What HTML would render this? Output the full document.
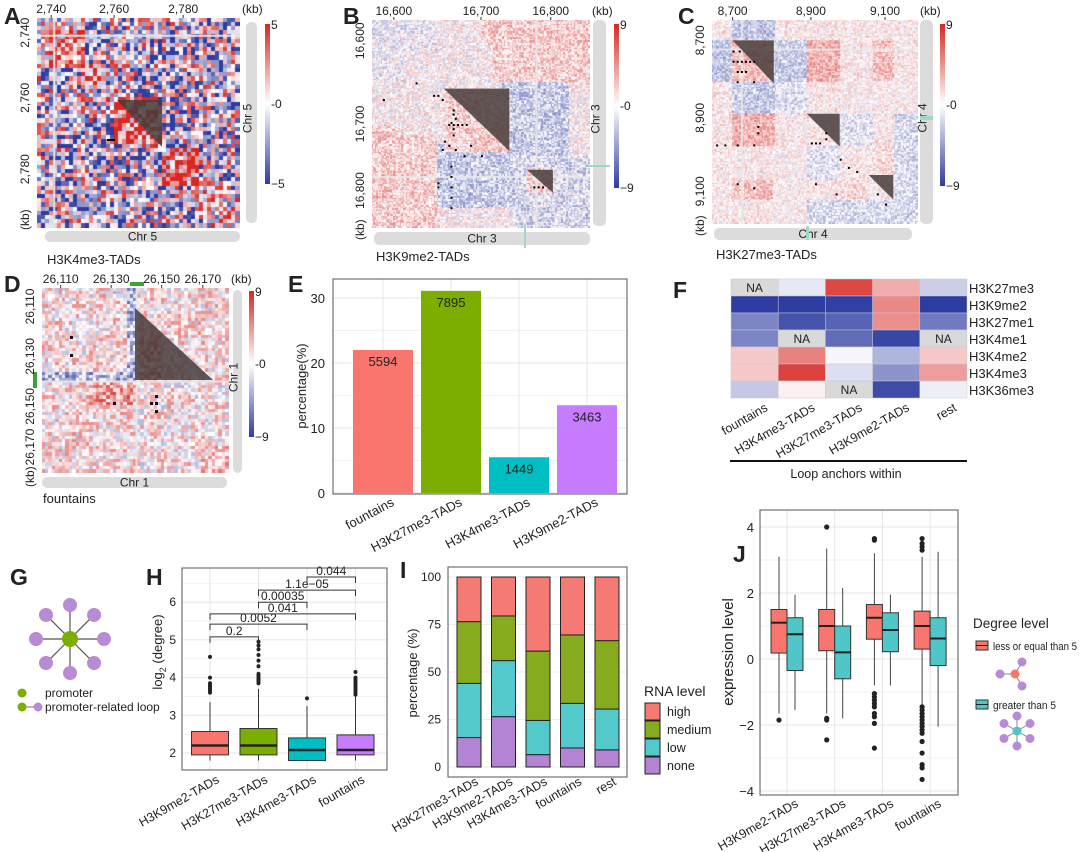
<!DOCTYPE html>
<html><head><meta charset="utf-8">
<style>
html,body{margin:0;padding:0;background:#fff;}
#wrap{position:relative;width:1080px;height:852px;overflow:hidden;font-family:"Liberation Sans",sans-serif;}
canvas{position:absolute;}
svg{position:absolute;left:0;top:0;}
text{font-family:"Liberation Sans",sans-serif;fill:#222;}
</style></head>
<body>
<div id="wrap">
<canvas id="hA" style="left:37px;top:18px" width="203" height="210"></canvas>
<canvas id="hB" style="left:372px;top:20px" width="218" height="208"></canvas>
<canvas id="hC" style="left:712px;top:20px" width="206" height="204"></canvas>
<canvas id="hD" style="left:42px;top:288px" width="187" height="185"></canvas>
<svg id="svg" width="1080" height="852" viewBox="0 0 1080 852">
<defs>
<linearGradient id="cbar" x1="0" y1="0" x2="0" y2="1">
<stop offset="0" stop-color="#d7281f"/><stop offset="0.5" stop-color="#ffffff"/><stop offset="1" stop-color="#2d3ca0"/>
</linearGradient>
</defs>
</svg>
</div>
<script>
// ---------- DATA ----------
const eCategories = ["fountains","H3K27me3-TADs","H3K4me3-TADs","H3K9me2-TADs"];
const eValues = [22.0, 31.1, 5.5, 13.5];
const eCounts = ["5594","7895","1449","3463"];
const eColors = ["#f8766d","#7cae00","#00bfc4","#c77cff"];
const eTicks = [0,10,20,30];

const fCols = ["fountains","H3K4me3-TADs","H3K27me3-TADs","H3K9me2-TADs","rest"];
const fRows = ["H3K27me3","H3K9me2","H3K27me1","H3K4me1","H3K4me2","H3K4me3","H3K36me3"];
const fValues = [
 [null,-0.12,0.85,0.38,-0.25],
 [-1.0,-1.0,-0.98,0.55,-1.0],
 [-0.62,-0.88,-0.8,0.52,-0.68],
 [-0.62,null,-0.75,-0.95,null],
 [0.25,0.58,-0.04,-0.38,0.25],
 [0.25,0.88,-0.16,-0.55,0.45],
 [-0.28,0.07,null,-0.92,-0.08]
];

const hCategories = ["H3K9me2-TADs","H3K27me3-TADs","H3K4me3-TADs","fountains"];
const hColors = ["#f8766d","#7cae00","#00bfc4","#c77cff"];
const hLow = [1.8,1.8,1.8,1.8];
const hQ1 = [1.95,1.95,1.8,1.95];
const hMed = [2.2,2.2,2.08,2.08];
const hQ3 = [2.57,2.65,2.4,2.48];
const hHigh = [3.35,3.7,3.25,3.5];
const hOutliers = [
 [3.6,3.65,3.7,3.75,3.8,3.85,4.0,4.55],
 [3.85,3.9,3.95,4.0,4.05,4.1,4.3,4.45,4.6,4.75,4.85,4.95],
 [3.45],
 [3.55,3.6,3.65,3.7,3.75,3.8,3.85,3.9,3.95,4.0,4.15]
];
const hPairs = [[0,1],[0,2],[0,3],[1,2],[1,3],[2,3]];
const hPLabels = ["0.2","0.0052","0.041","0.00035","1.1e−05","0.044"];
const hPY = [5.08,5.42,5.69,6.0,6.32,6.67];
const hTicks = [2,3,4,5,6];

const iCategories = ["H3K27me3-TADs","H3K9me2-TADs","H3K4me3-TADs","fountains","rest"];
const iNone = [15.5,26.5,6.5,10,9];
const iLow = [28.5,29.5,18,23.5,21.5];
const iMedium = [32.5,23.5,36.5,36,36];
const iHigh = [23.5,20.5,39,30.5,33.5];
const iTicks = [0,25,50,75,100];

const jCategories = ["H3K9me2-TADs","H3K27me3-TADs","H3K4me3-TADs","fountains"];
const jRedLow = [-1.65,-1.65,-0.8,-1.4];
const jRedQ1 = [0.18,0.25,0.6,0.3];
const jRedMed = [1.1,1.0,1.25,1.0];
const jRedQ3 = [1.5,1.5,1.65,1.45];
const jRedHigh = [3.1,3.35,3.2,3.1];
const jRedOut = [[-1.85],[4.0,-1.8,-1.85,-2.45],[3.6,3.65,-1.05,-1.15,-1.25,-1.35,-1.45,-1.65,-1.75,-1.95,-2.7],
 [3.3,3.4,3.5,3.65,-1.45,-1.55,-1.65,-1.75,-1.85,-1.95,-2.05,-2.15,-2.25,-2.5,-2.85,-3.2,-3.3,-3.65]];
const jTealLow = [-1.55,-1.8,-0.8,-2.05];
const jTealQ1 = [-0.35,-0.6,0.22,-0.2];
const jTealMed = [0.75,0.2,0.88,0.62];
const jTealQ3 = [1.25,1.0,1.4,1.25];
const jTealHigh = [1.95,2.15,1.95,3.25];
const jTicks = [-4,-2,0,2,4];

// ---------- HELPERS ----------
const NS="http://www.w3.org/2000/svg";
const svg=document.getElementById('svg');
function mk(tag,attrs,parent){const e=document.createElementNS(NS,tag);for(const k in attrs)e.setAttribute(k,attrs[k]);(parent||svg).appendChild(e);return e;}
function txt(s,x,y,attrs,parent){const e=mk('text',Object.assign({x:x,y:y,'font-size':12},attrs||{}),parent);e.textContent=s;return e;}
function group(name){const g=mk('g',{});return g;}
function lerp(a,b,t){return Math.round(a+(b-a)*t);}
function colv(v){v=Math.max(-1,Math.min(1,v));if(v>=0)return 'rgb('+lerp(255,215,v)+','+lerp(255,40,v)+','+lerp(255,35,v)+')';const t=-v;return 'rgb('+lerp(255,45,t)+','+lerp(255,60,t)+','+lerp(255,160,t)+')';}
function hsh(i,j,s){const a=Math.min(i,j),b=Math.max(i,j);const x=Math.sin(a*12.9898+b*78.233+s*3.17)*43758.5453;return x-Math.floor(x);}

// ---------- PANEL LETTERS ----------
const letters=[["A",4,24],["B",343,24],["C",678,24],["D",4,292],["E",288,292],["F",673,298],["G",10,585],["H",146,585],["I",400,578],["J",733,562]];
letters.forEach(l=>{const t=txt(l[0],l[1],l[2],{'font-size':23,'font-weight':'bold',fill:'#111'});});

// ---------- HI-C MAPS (texture) ----------
function drawHic(id,n,bias,amp,seed,grey){
 const c=document.getElementById(id),ctx=c.getContext('2d');const W=c.width,H=c.height;
 for(let i=0;i<n;i++)for(let j=0;j<n;j++){
  const u=Math.min(i,j)/n,v=Math.max(i,j)/n;
  let val=bias(u,v)+(hsh(i,j,seed)-0.5)*2*amp;
  ctx.fillStyle=colv(val);
  const x0=Math.floor(j*W/n),y0=Math.floor(i*H/n);
  ctx.fillRect(x0,y0,Math.ceil(W/n)+1,Math.ceil(H/n)+1);
 }
 if(grey){ctx.fillStyle='#e8e8e8';grey.forEach(g=>{ctx.fillRect(g*W,0,2,H);ctx.fillRect(0,g*H,W,2);});}
}
function inr(x,a,b){return x>=a&&x<=b;}
drawHic('hA',50,(u,v)=>{let b=-0.15;if(v-u<0.04)b=0.5;
 if(inr(u,0.05,0.22)&&inr(v,0.05,0.22))b=0.45;if(inr(u,0.22,0.32)&&inr(v,0.22,0.32))b=0.6;
 if(inr(u,0.38,0.58)&&inr(v,0.38,0.58))b=0.7;if(inr(u,0.62,0.78)&&inr(v,0.62,0.78))b=0.6;if(inr(u,0.82,1)&&inr(v,0.82,1))b=0.3;return b;},1.1,1,[0.08]);
drawHic('hB',140,(u,v)=>{let b=0.04;
 if(v>0.55&&u<0.3)b=0.2;if(u<0.15&&v<0.3)b=-0.08;if(inr(u,0.3,0.65)&&inr(v,0.6,0.9))b=-0.25;
 if(u>0.65&&v>0.65)b=-0.18;if(inr(u,0.33,0.63)&&inr(v,0.33,0.63))b=0.2;if(inr(u,0.71,0.83)&&inr(v,0.71,0.83))b=0.2;if(u<0.12&&v>0.5)b=0.22;return b;},0.32,2,[0.75]);
drawHic('hC',140,(u,v)=>{let b=0.08;
 if(u<0.1&&inr(v,0.1,0.3))b=-0.3;if(inr(u,0.1,0.3)&&inr(v,0.1,0.3))b=0.3;
 if(inr(u,0.1,0.3)&&inr(v,0.46,0.62))b=0.35;if(inr(u,0.1,0.3)&&inr(v,0.78,0.88))b=0.28;
 if(inr(u,0.3,0.46)&&inr(v,0.3,0.46))b=-0.15;if(inr(u,0.1,0.3)&&inr(v,0.3,0.46))b=-0.25;
 if(inr(u,0.46,0.62)&&inr(v,0.46,0.62))b=0.1;if(inr(u,0.46,0.62)&&inr(v,0.62,0.78))b=-0.15;
 if(inr(u,0.62,0.76)&&inr(v,0.78,0.88))b=0.15;if(v>0.88&&u>0.3)b=-0.18;if(inr(u,0.3,0.46)&&v>0.62)b=0.04;return b;},0.25,3,[0.14]);
drawHic('hD',55,(u,v)=>{let b=0.1;
 if(inr(u,0.25,0.5)&&inr(v,0.5,0.62))b=0.45;if(inr(u,0.0,0.5)&&inr(v,0.44,0.5))b=-0.35;
 if(inr(u,0.5,1)&&inr(v,0.5,1))b=0.08;if(v>0.85&&u>0.85)b=0.2;return b;},0.45,4,[0.5]);

// overlays
function tri(pts,name){const p=mk('polygon',{points:pts,fill:'rgba(70,60,60,0.85)'});}
function frac(x0,y0,w,h,fx,fy){return (x0+fx*w).toFixed(1)+','+(y0+fy*h).toFixed(1);}
tri('117,100 162,100 162,147','tad-triangle-a');
mk('rect',{x:107,y:139,width:8,height:2,fill:'#000'});
const B=[372,20,218,208];
tri([frac(...B,0.33,0.33),frac(...B,0.63,0.33),frac(...B,0.63,0.63)].join(' '),'tad-triangle-b1');
tri([frac(...B,0.71,0.72),frac(...B,0.83,0.72),frac(...B,0.83,0.83)].join(' '),'tad-triangle-b2');
const bDots=[[0.38,0.47],[0.36,0.49],[0.37,0.5],[0.39,0.5],[0.41,0.5],[0.43,0.5],[0.35,0.5],[0.37,0.45],[0.37,0.43],[0.37,0.52],[0.37,0.55],[0.35,0.6],[0.38,0.62],[0.32,0.62],[0.33,0.58],[0.36,0.7],[0.36,0.75],[0.36,0.8],[0.36,0.85],[0.36,0.9],[0.3,0.78],[0.3,0.8],[0.74,0.8],[0.76,0.8],[0.78,0.8],[0.32,0.38],[0.3,0.36],[0.28,0.36],[0.2,0.3],[0.05,0.38],[0.45,0.6],[0.5,0.65],[0.42,0.65]];
bDots.forEach(d=>mk('rect',{x:B[0]+d[0]*B[2],y:B[1]+d[1]*B[3],width:2,height:2,fill:'#000'}));
const C=[712,20,206,204];
tri([frac(...C,0.1,0.1),frac(...C,0.3,0.1),frac(...C,0.3,0.31)].join(' '),'tad-triangle-c1');
tri([frac(...C,0.46,0.46),frac(...C,0.62,0.46),frac(...C,0.62,0.62)].join(' '),'tad-triangle-c2');
tri([frac(...C,0.76,0.76),frac(...C,0.88,0.76),frac(...C,0.88,0.88)].join(' '),'tad-triangle-c3');
const cDots=[[0.1,0.2],[0.12,0.2],[0.14,0.2],[0.16,0.2],[0.18,0.2],[0.2,0.2],[0.12,0.25],[0.14,0.25],[0.16,0.25],[0.1,0.15],[0.13,0.15],[0.12,0.3],[0.2,0.3],[0.02,0.61],[0.06,0.61],[0.12,0.61],[0.2,0.61],[0.22,0.55],[0.22,0.52],[0.48,0.6],[0.5,0.6],[0.52,0.6],[0.55,0.58],[0.55,0.55],[0.62,0.68],[0.66,0.72],[0.7,0.74],[0.8,0.85],[0.84,0.9],[0.2,0.82],[0.12,0.8],[0.5,0.8],[0.6,0.85]];
cDots.forEach(d=>mk('rect',{x:C[0]+d[0]*C[2],y:C[1]+d[1]*C[3],width:2,height:2,fill:'#000'}));
tri('135,308 135,380 213,380','tad-triangle-d');
[[70,336],[70,354],[113,402],[150,402],[155,402],[155,395],[155,410]].forEach(d=>mk('rect',{x:d[0],y:d[1],width:3,height:3,fill:'#111'}));
mk('rect',{x:130,y:282,width:14,height:4,fill:'#3aa33a'});
mk('rect',{x:33,y:372,width:4,height:16,fill:'#3aa33a'});

function colorbar(x,y,h,top,bot,name){const r=mk('rect',{x:x,y:y,width:5,height:h,fill:'url(#cbar)'});
 txt(top,x+6,y+5,{'font-size':12});txt('-0',x+6,y+h/2+4,{'font-size':12});txt(bot,x+6,y+h+4,{'font-size':12});}
colorbar(265,24,160,'5','−5','colorbar-a');colorbar(614,24,164,'9','−9','colorbar-b');colorbar(940,24,162,'9','−9','colorbar-c');colorbar(249,291,146,'9','−9','colorbar-d');
function chrbar(x,y,w,h,label,vert,name){const r=mk('rect',{x:x,y:y,width:w,height:h,rx:5,fill:'#dcdcdc'});
 const cx=x+w/2,cy=y+h/2;if(vert)txt(label,cx+4,cy,{'text-anchor':'middle','font-size':12,transform:'rotate(-90 '+cx+' '+cy+')'});else txt(label,cx,cy+4,{'text-anchor':'middle','font-size':12});}
chrbar(246,22,11,201,'Chr 5',true,'chr-bar-a-vertical');chrbar(45,231,195,11,'Chr 5',false,'chr-bar-a-horizontal');
chrbar(593,20,13,206,'Chr 3',true,'chr-bar-b-vertical');chrbar(374,232,216,13,'Chr 3',false,'chr-bar-b-horizontal');
chrbar(920,20,13,204,'Chr 4',true,'chr-bar-c-vertical');chrbar(714,228,198,12,'Chr 4',false,'chr-bar-c-horizontal');
chrbar(233,290,9,183,'Chr 1',true,'chr-bar-d-vertical');chrbar(42,477,185,11,'Chr 1',false,'chr-bar-d-horizontal');
mk('rect',{x:524,y:226,width:2,height:22,fill:'#9fd8c8'});mk('rect',{x:588,y:165,width:22,height:2,fill:'#9fd8c8'});
mk('rect',{x:806,y:226,width:3,height:14,fill:'#9fd8c8'});mk('rect',{x:920,y:116,width:13,height:4,fill:'#9fd8c8'});

function hicTicks(x0,y0,w,h,labels,fr,kbOff,name){const g=group(name);
 labels.forEach((l,i)=>{const x=x0+fr[i]*w,y=y0+fr[i]*h;
  txt(l,x,y0-5,{'text-anchor':'middle','font-size':12},g);mk('line',{x1:x,y1:y0-3,x2:x,y2:y0,stroke:'#333'},g);
  txt(l,x0-8,y,{'text-anchor':'middle','font-size':12,transform:'rotate(-90 '+(x0-8)+' '+y+')'},g);});
 txt('(kb)',x0+w+2,y0-5,{'font-size':12},g);const ky=y0+h+kbOff;txt('(kb)',x0-8,ky,{'text-anchor':'start','font-size':12,transform:'rotate(-90 '+(x0-8)+' '+ky+')'},g);}
hicTicks(37,18,203,210,['2,740','2,760','2,780'],[0.07,0.38,0.72],2,'ticks-a');
hicTicks(372,20,218,208,['16,600','16,700','16,800'],[0.1,0.5,0.82],12,'ticks-b');
hicTicks(712,20,206,204,['8,700','8,900','9,100'],[0.1,0.48,0.84],12,'ticks-c');
hicTicks(42,288,187,185,['26,110','26,130','26,150','26,170'],[0.1,0.37,0.64,0.86],14,'ticks-d');
[['H3K4me3-TADs',47,264],['H3K9me2-TADs',376,261],['H3K27me3-TADs',716,259],['fountains',43,503]].forEach(t=>{const e=txt(t[0],t[1],t[2],{'font-size':13});});

// ---------- PANEL E ----------
const yE=p=>493-6.5*p, xE=i=>383+68*i;
const gE=group('bar-chart-e');
mk('rect',{x:333,y:279,width:294,height:215,fill:'#fff'},gE);
[5,15,25].forEach(t=>mk('line',{x1:333,x2:627,y1:yE(t),y2:yE(t),stroke:'#f2f2f2'},gE));
eTicks.forEach(t=>{mk('line',{x1:333,x2:627,y1:yE(t),y2:yE(t),stroke:'#e6e6e6'},gE);txt(String(t),325,yE(t)+5,{'text-anchor':'end','font-size':13},gE);});
eCategories.forEach((c,i)=>mk('line',{x1:xE(i),x2:xE(i),y1:279,y2:494,stroke:'#e6e6e6'},gE));
eCategories.forEach((c,i)=>{
 const r=mk('rect',{x:xE(i)-30,y:yE(eValues[i]),width:60,height:yE(0)-yE(eValues[i]),fill:eColors[i]},gE);
 
 txt(eCounts[i],xE(i),yE(eValues[i])+16,{'text-anchor':'middle','font-size':13},gE);
 const lx=xE(i)+12,ly=505;txt(c,lx,ly,{'text-anchor':'end','font-size':13,transform:'rotate(-28 '+lx+' '+ly+')'},gE);
});
mk('rect',{x:333,y:279,width:294,height:215,fill:'none',stroke:'#555'},gE);
txt('percentage(%)',306,386,{'text-anchor':'middle','font-size':13,transform:'rotate(-90 306 386)'},gE);

// ---------- PANEL F ----------
const gF=group('heatmap-f');const fx0=731,fy0=279,fw=47.2,fh=17;
fRows.forEach((r,ri)=>{fCols.forEach((c,ci)=>{const v=fValues[ri][ci];
 const cell=mk('rect',{x:fx0+ci*fw,y:fy0+ri*fh,width:fw,height:fh,fill:v===null?'#d9d9d9':colv(v),stroke:'#c8c8d8','stroke-width':0.5},gF);
 
 if(v===null)txt('NA',fx0+ci*fw+fw/2,fy0+ri*fh+13,{'text-anchor':'middle','font-size':12},gF);});
 txt(r,fx0+5*fw+2,fy0+ri*fh+14,{'font-size':13},gF);});
fCols.forEach((c,ci)=>{const lx=fx0+ci*fw+fw/2+14,ly=fy0+7*fh+12;txt(c,lx,ly,{'text-anchor':'end','font-size':12.5,transform:'rotate(-30 '+lx+' '+ly+')'},gF);});
mk('line',{x1:730,x2:967,y1:461,y2:461,stroke:'#111','stroke-width':2},gF);
txt('Loop anchors within',846,478,{'text-anchor':'middle','font-size':12.5},gF);

// ---------- PANEL G ----------
const gG=group('network-diagram-g');
for(let k=0;k<8;k++){const a=k*Math.PI/4-Math.PI/2,x=70+34*Math.cos(a),y=639+34*Math.sin(a);
 mk('line',{x1:70,y1:639,x2:x,y2:y,stroke:'#555','stroke-width':1.2},gG);mk('circle',{cx:x,cy:y,r:7,fill:'#b98ad6'},gG);}
mk('circle',{cx:70,cy:639,r:8,fill:'#7cae00'},gG);
mk('circle',{cx:22,cy:693,r:4.5,fill:'#7cae00'},gG);txt('promoter',45,697,{'font-size':12},gG);
mk('line',{x1:22,y1:707,x2:38,y2:707,stroke:'#777'},gG);mk('circle',{cx:22,cy:707,r:4.5,fill:'#7cae00'},gG);mk('circle',{cx:38,cy:707,r:4.5,fill:'#b98ad6'},gG);
txt('promoter-related loop',45,711,{'font-size':12},gG);

// ---------- PANEL H ----------
const yH=v=>753-37.7*(v-2), xH=i=>210+48.5*i;
const gH=group('boxplot-h');
[2.5,3.5,4.5,5.5,6.5].forEach(t=>mk('line',{x1:182,x2:387,y1:yH(t),y2:yH(t),stroke:'#f2f2f2'},gH));
hTicks.forEach(t=>{mk('line',{x1:182,x2:387,y1:yH(t),y2:yH(t),stroke:'#e6e6e6'},gH);txt(String(t),176,yH(t)+4,{'text-anchor':'end','font-size':12},gH);});
hCategories.forEach((c,i)=>mk('line',{x1:xH(i),x2:xH(i),y1:568,y2:770,stroke:'#e6e6e6'},gH));
hCategories.forEach((c,i)=>{const x=xH(i);
 mk('line',{x1:x,x2:x,y1:yH(hLow[i]),y2:yH(hHigh[i]),stroke:'#333'},gH);
 const b=mk('rect',{x:x-18.5,y:yH(hQ3[i]),width:37,height:yH(hQ1[i])-yH(hQ3[i]),fill:hColors[i],stroke:'#333'},gH);
 
 mk('line',{x1:x-18.5,x2:x+18.5,y1:yH(hMed[i]),y2:yH(hMed[i]),stroke:'#222','stroke-width':2.5},gH);
 hOutliers[i].forEach(o=>mk('circle',{cx:x,cy:yH(o),r:2,fill:'#222'},gH));
 const lx=x+10,ly=782;txt(c,lx,ly,{'text-anchor':'end','font-size':12.5,transform:'rotate(-30 '+lx+' '+ly+')'},gH);
});
hPairs.forEach((p,k)=>{const y=yH(hPY[k]),x1=xH(p[0]),x2=xH(p[1]);
 mk('polyline',{points:x1+','+(y+6)+' '+x1+','+y+' '+x2+','+y+' '+x2+','+(y+6),fill:'none',stroke:'#333'},gH);
 txt(hPLabels[k],(x1+x2)/2,y-2,{'text-anchor':'middle','font-size':12},gH);});
mk('rect',{x:182,y:568,width:205,height:202,fill:'none',stroke:'#555'},gH);
const hl=txt('',162,652,{'text-anchor':'middle','font-size':13,transform:'rotate(-90 162 652)'},gH);
hl.innerHTML='log<tspan font-size="9" dy="4">2</tspan><tspan dy="-4"> (degree)</tspan>';

// ---------- PANEL I ----------
const yI=p=>767-1.9*p, xI=i=>469+34.5*i;
const gI=group('stacked-bar-i');
iTicks.forEach(t=>{mk('line',{x1:448,x2:627,y1:yI(t),y2:yI(t),stroke:'#ececec'},gI);txt(String(t),441,yI(t)+4,{'text-anchor':'end','font-size':12},gI);});
const iSeries=[["none",iNone],["low",iLow],["medium",iMedium],["high",iHigh]];
const iFill={none:'#b384d4',low:'#53c9cc',medium:'#86ab1e',high:'#f47a73'};
iCategories.forEach((c,i)=>{let acc=0;
 iSeries.forEach(s=>{const v=s[1][i];const r=mk('rect',{x:xI(i)-12,y:yI(acc+v),width:24,height:yI(acc)-yI(acc+v),fill:iFill[s[0]],stroke:'#222','stroke-width':1},gI);
  acc+=v;});
 const lx=xI(i)+10,ly=784;txt(c,lx,ly,{'text-anchor':'end','font-size':12.5,transform:'rotate(-30 '+lx+' '+ly+')'},gI);
});
mk('rect',{x:448,y:567,width:179,height:210,fill:'none',stroke:'#555'},gI);
txt('percentage (%)',417,673,{'text-anchor':'middle','font-size':13,transform:'rotate(-90 417 673)'},gI);
const gIL=group('legend-i');txt('RNA level',644,696,{'font-size':14},gIL);
["high","medium","low","none"].forEach((k,n)=>{const r=mk('rect',{x:645,y:703+n*18,width:15,height:17,fill:iFill[k],stroke:'#222'},gIL);txt(k,667,716+n*18,{'font-size':12.5},gIL);});

// ---------- PANEL J ----------
const yJ=v=>659-33*v, xJ=i=>787+47.7*i;
const gJ=group('boxplot-j');
[-3,-1,1,3].forEach(t=>mk('line',{x1:760,x2:958,y1:yJ(t),y2:yJ(t),stroke:'#f2f2f2'},gJ));
jTicks.forEach(t=>{mk('line',{x1:760,x2:958,y1:yJ(t),y2:yJ(t),stroke:'#e6e6e6'},gJ);txt(String(t).replace('-','−'),754,yJ(t)+5,{'text-anchor':'end','font-size':13},gJ);});
jCategories.forEach((c,i)=>mk('line',{x1:xJ(i),x2:xJ(i),y1:510,y2:795,stroke:'#e6e6e6'},gJ));
function jBox(x,lo,q1,md,q3,hi,col,name){
 mk('line',{x1:x,x2:x,y1:yJ(lo),y2:yJ(hi),stroke:'#444'},gJ);
 const b=mk('rect',{x:x-8,y:yJ(q3),width:16,height:yJ(q1)-yJ(q3),fill:col,stroke:'#333'},gJ);
 
 mk('line',{x1:x-8,x2:x+8,y1:yJ(md),y2:yJ(md),stroke:'#222','stroke-width':2},gJ);}
jCategories.forEach((c,i)=>{
 jBox(xJ(i)-8,jRedLow[i],jRedQ1[i],jRedMed[i],jRedQ3[i],jRedHigh[i],'#f8766d','box-low-degree-'+c);
 jBox(xJ(i)+8,jTealLow[i],jTealQ1[i],jTealMed[i],jTealQ3[i],jTealHigh[i],'#4fc6c8','box-high-degree-'+c);
 jRedOut[i].forEach(o=>mk('circle',{cx:xJ(i)-8,cy:yJ(o),r:2.6,fill:'#222'},gJ));
 const lx=xJ(i)+12,ly=806;txt(c,lx,ly,{'text-anchor':'end','font-size':12.5,transform:'rotate(-30 '+lx+' '+ly+')'},gJ);
});
mk('rect',{x:760,y:510,width:198,height:285,fill:'none',stroke:'#555'},gJ);
txt('expression level',733,652,{'text-anchor':'middle','font-size':15,transform:'rotate(-90 733 652)'},gJ);
const gJL=group('legend-j');txt('Degree level',973,628,{'font-size':13.5},gJL);
const k1=mk('rect',{x:976,y:641,width:12,height:9,fill:'#f8766d',stroke:'#333'},gJL);
mk('line',{x1:976,x2:988,y1:645.5,y2:645.5,stroke:'#222'},gJL);txt('less or equal than 5',993,650,{'font-size':11,textLength:84,lengthAdjust:'spacingAndGlyphs'},gJL);
const k2=mk('rect',{x:976,y:700,width:12,height:9,fill:'#4fc6c8',stroke:'#333'},gJL);
mk('line',{x1:976,x2:988,y1:704.5,y2:704.5,stroke:'#222'},gJL);txt('greater than 5',993,709,{'font-size':11,textLength:63,lengthAdjust:'spacingAndGlyphs'},gJL);
const n1c=[1015,674];[[1000,674],[1022,662],[1022,686]].forEach(p=>{mk('line',{x1:n1c[0],y1:n1c[1],x2:p[0],y2:p[1],stroke:'#888'},gJL);mk('circle',{cx:p[0],cy:p[1],r:4.5,fill:'#b98ad6'},gJL);});
mk('circle',{cx:n1c[0],cy:n1c[1],r:4.5,fill:'#f8766d'},gJL);
const n2c=[1017,731];for(let k=0;k<6;k++){const a=k*Math.PI/3-Math.PI/2;const x=n2c[0]+15*Math.cos(a),y=n2c[1]+15*Math.sin(a);mk('line',{x1:n2c[0],y1:n2c[1],x2:x,y2:y,stroke:'#888'},gJL);mk('circle',{cx:x,cy:y,r:4.5,fill:'#b98ad6'},gJL);}
mk('circle',{cx:n2c[0],cy:n2c[1],r:4.5,fill:'#4fc6c8'},gJL);
</script>
</body></html>
